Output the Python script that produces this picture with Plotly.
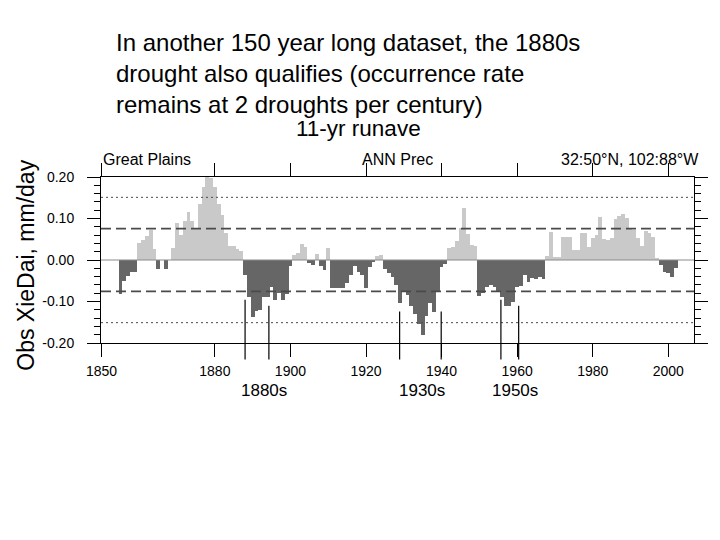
import plotly.graph_objects as go

# ---------------- data ----------------
years = list(range(1855, 2003))
precip_anom = [
    -0.082, -0.051, -0.038, -0.030, -0.028,            # 1855-1859
    0.040, 0.048, 0.058, 0.073, 0.027,                 # 1860-1864
    -0.022, 0.000, -0.022, 0.000, 0.030,               # 1865-1869
    0.090, 0.060, 0.095, 0.115, 0.095,                 # 1870-1874
    0.078, 0.134, 0.176, 0.200, 0.198,                 # 1875-1879
    0.176, 0.136, 0.108, 0.064, 0.034,                 # 1880-1884
    0.034, 0.026, 0.022, -0.036, -0.088,               # 1885-1889
    -0.138, -0.124, -0.120, -0.088, -0.090,            # 1890-1894
    -0.066, -0.097, -0.079, -0.097, -0.083,            # 1895-1899
    -0.015, 0.012, 0.016, 0.038, 0.032,                # 1900-1904
    -0.008, -0.012, 0.014, -0.014, -0.024,             # 1905-1909
    0.028, -0.068, -0.068, -0.068, -0.068,             # 1910-1914
    -0.055, -0.035, -0.015, -0.030, -0.035,            # 1915-1919
    -0.068, -0.016, -0.004, 0.010, 0.013,              # 1920-1924
    -0.022, -0.032, -0.040, -0.060, -0.104,            # 1925-1929
    -0.074, -0.085, -0.112, -0.130, -0.155,            # 1930-1934
    -0.180, -0.135, -0.104, -0.125, -0.074,            # 1935-1939
    -0.018, -0.010, 0.028, 0.032, 0.045,               # 1940-1944
    0.076, 0.125, 0.062, 0.036, 0.034,                 # 1945-1949
    -0.086, -0.080, -0.066, -0.060, -0.066,            # 1950-1954
    -0.076, -0.090, -0.112, -0.112, -0.100,            # 1955-1959
    -0.066, -0.062, -0.036, -0.054, -0.044,            # 1960-1964
    -0.046, -0.040, -0.046, 0.010, 0.068,              # 1965-1969
    0.008, 0.008, 0.056, 0.056, 0.056,                 # 1970-1974
    0.024, 0.024, 0.064, 0.066, 0.032,                 # 1975-1979
    0.052, 0.060, 0.104, 0.050, 0.048,                 # 1980-1984
    0.052, 0.100, 0.106, 0.110, 0.102,                 # 1985-1989
    0.078, 0.072, 0.052, 0.034, 0.070,                 # 1990-1994
    0.066, 0.056, 0.004, -0.012, -0.028,               # 1995-1999
    -0.032, -0.040, -0.020,                            # 2000-2002
]
assert len(years) == len(precip_anom)

x_tick_years = [1850, 1880, 1900, 1920, 1940, 1960, 1980, 2000]
y_tick_vals = [-0.20, -0.10, 0.00, 0.10, 0.20]
y_tick_text = ["-0.20", "-0.10", "0.00", "0.10", "0.20"]

dash_levels = [0.0755, -0.0755]     # dashed reference lines
dot_levels = [0.151, -0.151]        # dotted reference lines

marker_years = [1888.0, 1894.3, 1928.9, 1939.9, 1955.7, 1960.4]
marker_tops = [-0.096, -0.110, -0.124, -0.124, -0.096, -0.110]
marker_bottom = -0.24

decade_labels = ["1880s", "1930s", "1950s"]
decade_label_years = [1893.0, 1934.7, 1959.4]

# ---------------- layout geometry ----------------
W, H = 720, 540
L, R, T, B = 101, 700, 177, 343
XRANGE = [1849.87, 2006.8]
YRANGE = [-0.2, 0.2]
FONT = "Liberation Sans, Arial, Helvetica, sans-serif"

def px_x(xp):
    return (xp - L) / (R - L)

def px_y(yp):
    return (B - yp) / (B - T)

def val_to_paper_y(v):
    return (v - YRANGE[0]) / (YRANGE[1] - YRANGE[0])

LIGHT = "#c9c9c9"
DARK = "#666666"
colors = [LIGHT if v >= 0 else DARK for v in precip_anom]

fig = go.Figure()
fig.add_trace(go.Bar(
    x=years, y=precip_anom, width=1.0,
    marker=dict(color=colors, line=dict(width=0)),
    showlegend=False, hoverinfo="x+y",
))

shapes = []
# zero line
shapes.append(dict(type="line", xref="paper", yref="y", x0=0, x1=1, y0=0, y1=0,
                   line=dict(color="#8a8a8a", width=1), layer="above"))
for lv in dash_levels:
    shapes.append(dict(type="line", xref="paper", yref="y", x0=0, x1=1, y0=lv, y1=lv,
                       line=dict(color="#4a4a4a", width=1.6, dash="10px,5px"), layer="above"))
for lv in dot_levels:
    shapes.append(dict(type="line", xref="paper", yref="y", x0=0, x1=1, y0=lv, y1=lv,
                       line=dict(color="#4a4a4a", width=1, dash="2px,3px"), layer="above"))
for yr, top in zip(marker_years, marker_tops):
    shapes.append(dict(type="line", xref="x", yref="paper", x0=yr, x1=yr,
                       y0=val_to_paper_y(top), y1=val_to_paper_y(marker_bottom),
                       line=dict(color="black", width=1.2), layer="above"))

annotations = []
# decade labels
for lab, yr in zip(decade_labels, decade_label_years):
    annotations.append(dict(text=lab, xref="x", yref="paper", x=yr, y=px_y(390),
                            showarrow=False, xanchor="center", yanchor="middle",
                            font=dict(family=FONT, size=17, color="black")))
# slide text
annotations.append(dict(
    text="In another 150 year long dataset, the 1880s<br>drought also qualifies (occurrence rate<br>remains at 2 droughts per century)",
    xref="paper", yref="paper", x=px_x(114), y=px_y(27), xanchor="left", yanchor="top",
    align="left", showarrow=False, font=dict(family=FONT, size=24, color="black")))
# main title
annotations.append(dict(text="11-yr runave", xref="paper", yref="paper", x=px_x(361), y=px_y(128),
                        xanchor="center", yanchor="middle", showarrow=False,
                        font=dict(family=FONT, size=22.5, color="black")))
# subtitles
annotations.append(dict(text="Great Plains", xref="paper", yref="paper", x=0, y=px_y(159),
                        xanchor="left", yanchor="middle", showarrow=False,
                        font=dict(family=FONT, size=16, color="black")))
annotations.append(dict(text="ANN Prec", xref="paper", yref="paper", x=px_x(401), y=px_y(159),
                        xanchor="center", yanchor="middle", showarrow=False,
                        font=dict(family=FONT, size=16, color="black")))
annotations.append(dict(text="32:50°N, 102:88°W", xref="paper", yref="paper", x=px_x(707), y=px_y(159),
                        xanchor="right", yanchor="middle", showarrow=False,
                        font=dict(family=FONT, size=16, color="black")))
# y-axis title
annotations.append(dict(text="Obs XieDai, mm/day", xref="paper", yref="paper", x=px_x(25), y=px_y(265),
                        xanchor="center", yanchor="middle", textangle=-90, showarrow=False,
                        font=dict(family=FONT, size=23, color="black")))

fig.update_layout(
    width=W, height=H,
    margin=dict(l=L, r=W - R, t=T, b=H - B, pad=0),
    paper_bgcolor="white", plot_bgcolor="white",
    bargap=0, showlegend=False,
    shapes=shapes, annotations=annotations,
    font=dict(family=FONT, color="black"),
)
fig.update_xaxes(
    range=XRANGE, tickmode="array", tickvals=x_tick_years,
    ticktext=[str(v) for v in x_tick_years],
    showgrid=False, zeroline=False,
    showline=True, linecolor="black", linewidth=1, mirror="ticks",
    ticks="outside", ticklen=13, tickwidth=1, tickcolor="black",
    tickfont=dict(family=FONT, size=14, color="black"),
    ticklabelstandoff=2,
)
fig.update_yaxes(
    range=YRANGE, tickmode="array", tickvals=y_tick_vals, ticktext=y_tick_text,
    showgrid=False, zeroline=False,
    showline=True, linecolor="black", linewidth=1, mirror="ticks",
    ticks="outside", ticklen=13, tickwidth=1, tickcolor="black",
    minor=dict(dtick=0.02, tick0=0, ticks="outside", ticklen=6, tickwidth=1,
               tickcolor="black", showgrid=False),
    tickfont=dict(family=FONT, size=14, color="black"),
    ticklabelstandoff=10,
)

fig.write_html("out.html", config={"displayModeBar": False},
               post_script="document.body.style.margin='0px';")
